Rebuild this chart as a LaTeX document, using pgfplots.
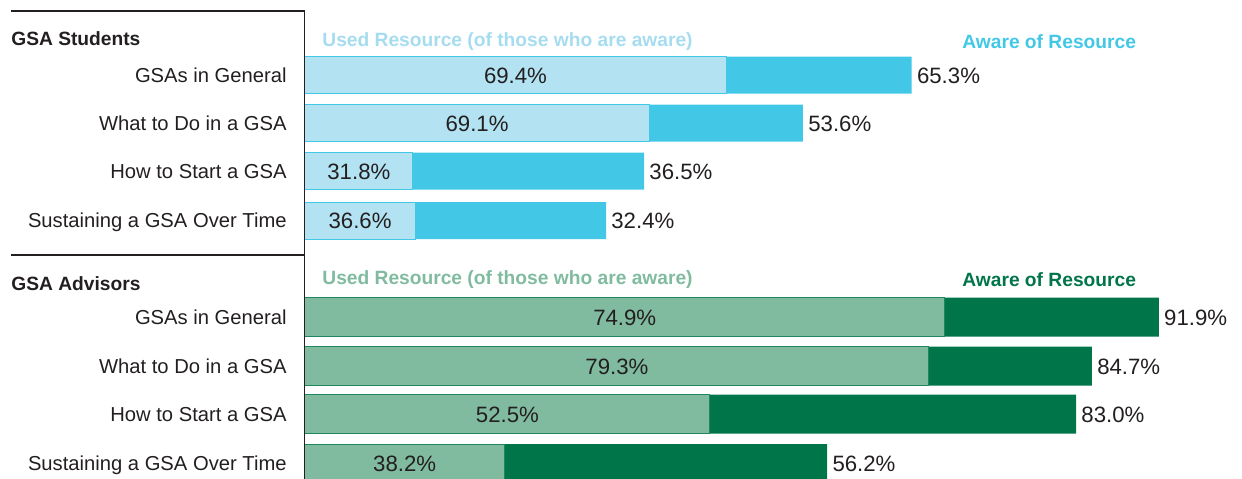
\documentclass[border=0pt]{standalone}
\usepackage{pgfplots}
\pgfplotsset{compat=1.18}
\usepackage{fontspec}
\setmainfont{Liberation Sans}
\definecolor{sLight}{HTML}{B3E3F2}
\definecolor{sDark}{HTML}{42C8E6}
\definecolor{sHead}{HTML}{A6DCEF}
\definecolor{aLight}{HTML}{80BBA0}
\definecolor{aDark}{HTML}{00754A}
\definecolor{txt}{HTML}{231F20}
\begin{document}
\begin{tikzpicture}
\begin{axis}[
  scale only axis,
  width=468.5pt, height=239pt,
  xmin=0, xmax=100.86,
  ymin=0, ymax=478, y dir=reverse,
  axis line style={draw=none},
  xtick=\empty,
  ytick={75,123,171,220.5,317,366,414,463.5},
  yticklabels={GSAs in General, What to Do in a GSA, How to Start a GSA, Sustaining a GSA Over Time,
               GSAs in General, What to Do in a GSA, How to Start a GSA, Sustaining a GSA Over Time},
  major tick length=0pt,
  yticklabel style={font=\fontsize{10.1}{12}\selectfont, text=txt, anchor=base east, inner sep=0pt, xshift=-9pt, yshift=-3.6pt},
  clip=false,
  xbar, bar shift=0pt,
  nodes near coords style={font=\fontsize{11.1}{13}\selectfont, text=txt, anchor=base west, inner sep=0pt, xshift=2.5pt, yshift=-4pt},
]
% Students: aware (outer)
\addplot[xbar, bar width=37, fill=sDark, draw=none, point meta=explicit symbolic, nodes near coords]
  coordinates {(65.3,75) [65.3\%] (53.6,123) [53.6\%] (36.5,171) [36.5\%] (32.4,220.5) [32.4\%]};
% Students: used (inner = aware x used)
\addplot[xbar, bar width=37, fill=sLight, draw=sDark, line width=0.5pt]
  coordinates {(45.318,75) (37.038,123) (11.607,171) (11.858,220.5)};
% Advisors: aware (outer)
\addplot[xbar, bar width=39, fill=aDark, draw=none, point meta=explicit symbolic, nodes near coords]
  coordinates {(91.9,317) [91.9\%] (84.7,366) [84.7\%] (83.0,414) [83.0\%] (56.2,463.5) [56.2\%]};
% Advisors: used (inner)
\addplot[xbar, bar width=39, fill=aLight, draw=aDark!75!aLight, line width=0.5pt]
  coordinates {(68.833,317) (67.167,366) (43.575,414) (21.468,463.5)};

% inner labels (used of those aware)
\begin{scope}[every node/.style={font=\fontsize{11.1}{13}\selectfont, text=txt, anchor=base, inner sep=0pt, yshift=-4pt}]
\node at (axis cs:22.659,75) {69.4\%};
\node at (axis cs:18.519,123) {69.1\%};
\node at (axis cs:5.80,171) {31.8\%};
\node at (axis cs:5.93,220.5) {36.6\%};
\node at (axis cs:34.42,317) {74.9\%};
\node at (axis cs:33.58,366) {79.3\%};
\node at (axis cs:21.79,414) {52.5\%};
\node at (axis cs:10.73,463.5) {38.2\%};
\end{scope}

% headings
\begin{scope}[every node/.style={font=\bfseries\fontsize{9.6}{12}\selectfont, anchor=base west, inner sep=0pt}]
\node[text=txt] at (axis cs:-31.65,45) {GSA Students};
\node[text=txt] at (axis cs:-31.65,290) {GSA Advisors};
\node[text=sHead] at (axis cs:1.83,46) {Used Resource (of those who are aware)};
\node[text=aLight] at (axis cs:1.83,284) {Used Resource (of those who are aware)};
\node[text=sDark] at (axis cs:70.72,48) {Aware of Resource};
\node[text=aDark] at (axis cs:70.72,286) {Aware of Resource};
\end{scope}

% frame lines
\draw[txt, line width=0.6pt] (axis cs:-0.05,11) -- (axis cs:-0.05,490);
\draw[txt, line width=0.6pt] (axis cs:-31.65,11) -- (axis cs:-0.05,11);
\draw[txt, line width=0.6pt] (axis cs:-31.65,255) -- (axis cs:-0.05,255);

\coordinate (BL) at (axis cs:-32.83,478);
\coordinate (TR) at (axis cs:100.86,0);
\end{axis}
\pgfresetboundingbox
\useasboundingbox (BL) rectangle (TR);
\end{tikzpicture}
\end{document}
